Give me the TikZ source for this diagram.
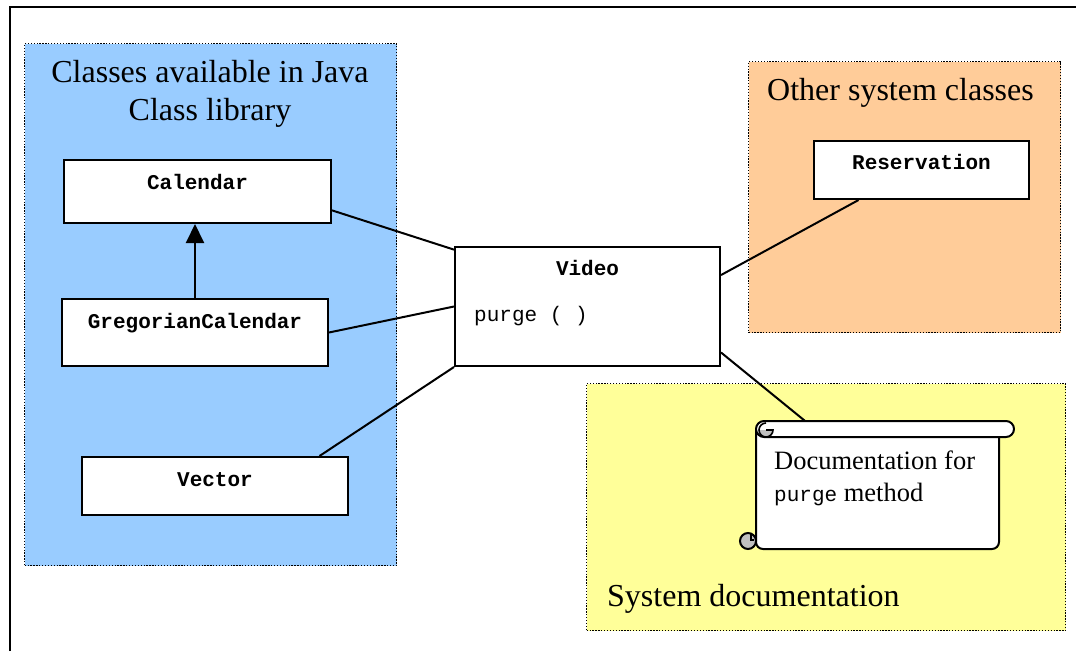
\documentclass[tikz,border=0pt]{standalone}
\usepackage{fontspec}
\setmainfont{Liberation Serif}
\setmonofont{Liberation Mono}
\usetikzlibrary{calc,arrows.meta}
\definecolor{grpblue}{HTML}{99CCFF}
\definecolor{grporange}{HTML}{FFCC99}
\definecolor{grpyellow}{HTML}{FFFF99}
\definecolor{curlgray}{HTML}{C0C0C0}
\begin{document}
\begin{tikzpicture}[x=1pt,y=-1pt,
  group/.style={draw, line width=1.3, dash pattern=on 1.3pt off 1.6pt, inner sep=0, anchor=north west},
  classbox/.style={draw, line width=2, fill=white, inner sep=0},
  clsname/.style={anchor=base, inner sep=0, font=\fontsize{21}{25}\selectfont\ttfamily\bfseries},
  grouptitle/.style={font=\fontsize{32}{38}\selectfont, align=center, inner sep=0},
  conn/.style={line width=2},
  scrollline/.style={line width=2, line join=round},
]
\useasboundingbox (0,0) rectangle (1076,651);
% outer frame
\draw[line width=2] (10,651) -- (10,7) -- (1076,7);

% groups
\node[group, fill=grpblue, minimum width=372, minimum height=522] (blue) at (24,43) {};
\node[group, fill=grporange, minimum width=312, minimum height=271] (orange) at (748,61) {};
\node[group, fill=grpyellow, minimum width=479, minimum height=247] (yellow) at (586,383) {};

\node[grouptitle, anchor=north] (bluetitle) at (210,60) {Classes available in Java\\Class library};
\node[grouptitle, anchor=base] (orangetitle) at (900.5,100) {Other system classes};
\node[grouptitle, anchor=base west] (yellowtitle) at (607,606) {System documentation};

% class boxes
\node[classbox, minimum width=267, minimum height=63] (cal) at (197.5,191.5) {};
\node[classbox, minimum width=266, minimum height=67] (greg) at (195,332.5) {};
\node[classbox, minimum width=266, minimum height=58] (vec) at (215,486) {};
\node[classbox, minimum width=265, minimum height=119] (vid) at (587.5,306.5) {};
\node[classbox, minimum width=215, minimum height=58] (res) at (921.5,170) {};

\node[clsname] (calname) at ($(cal.north)+(0,30)$) {Calendar};
\node[clsname] (gregname) at ($(greg.north)+(0,30)$) {GregorianCalendar};
\node[clsname] (vecname) at ($(vec.north)+(0,30)$) {Vector};
\node[clsname] (vidname) at ($(vid.north)+(0,29)$) {Video};
\node[clsname] (resname) at ($(res.north)+(0,29)$) {Reservation};
\node[anchor=base west, inner sep=0, font=\fontsize{21}{25}\selectfont\ttfamily] (purge) at (474,321) {purge ( )};

% scroll (documentation)
\node[inner sep=0, minimum width=258, minimum height=128, anchor=north west] (doc) at (756,421) {};
\draw[scrollline, fill=white, rounded corners=7] (756,429) -- (756,549) -- (999,549) -- (999,437);
\draw[scrollline, fill=white, rounded corners=8] (756,421) rectangle (1014,437);
\fill[curlgray] (759,430) arc[start angle=180, end angle=0, radius=7] -- cycle;
\draw[line width=1.6] (759,430) arc[start angle=180, end angle=0, radius=7] -- (766,430);
\draw[line width=1.6] (759,430) arc[start angle=180, end angle=270, radius=7];
\draw[line width=2, fill=curlgray] (748,541) circle (8);
\draw[line width=1.2] (751,534) -- (751,540) -- (754,540);
\node[anchor=north west, inner sep=0, align=left, font=\fontsize{26.5}{32}\selectfont] (doctext) at (774,451)
  {Documentation for\\{\fontsize{21}{32}\selectfont\ttfamily purge} method};

% connectors
\draw[conn] ($(cal.north east)!0.79!(cal.south east)$) -- ($(vid.north west)!0.03!(vid.south west)$);
\draw[conn] (greg.east) -- (vid.west);
\draw[conn] ($(vec.north west)!0.89!(vec.north east)$) -- (vid.south west);
\draw[conn] ($(vid.north east)!0.24!(vid.south east)$) -- ($(res.south west)!0.21!(res.south east)$);
\draw[conn] ($(vid.north east)!0.88!(vid.south east)$) -- ($(doc.north west)!0.19!(doc.north east)$);
\draw[conn, -{Triangle[width=18pt,length=19pt]}] (greg.north) -- (greg.north |- cal.south);
\end{tikzpicture}
\end{document}
